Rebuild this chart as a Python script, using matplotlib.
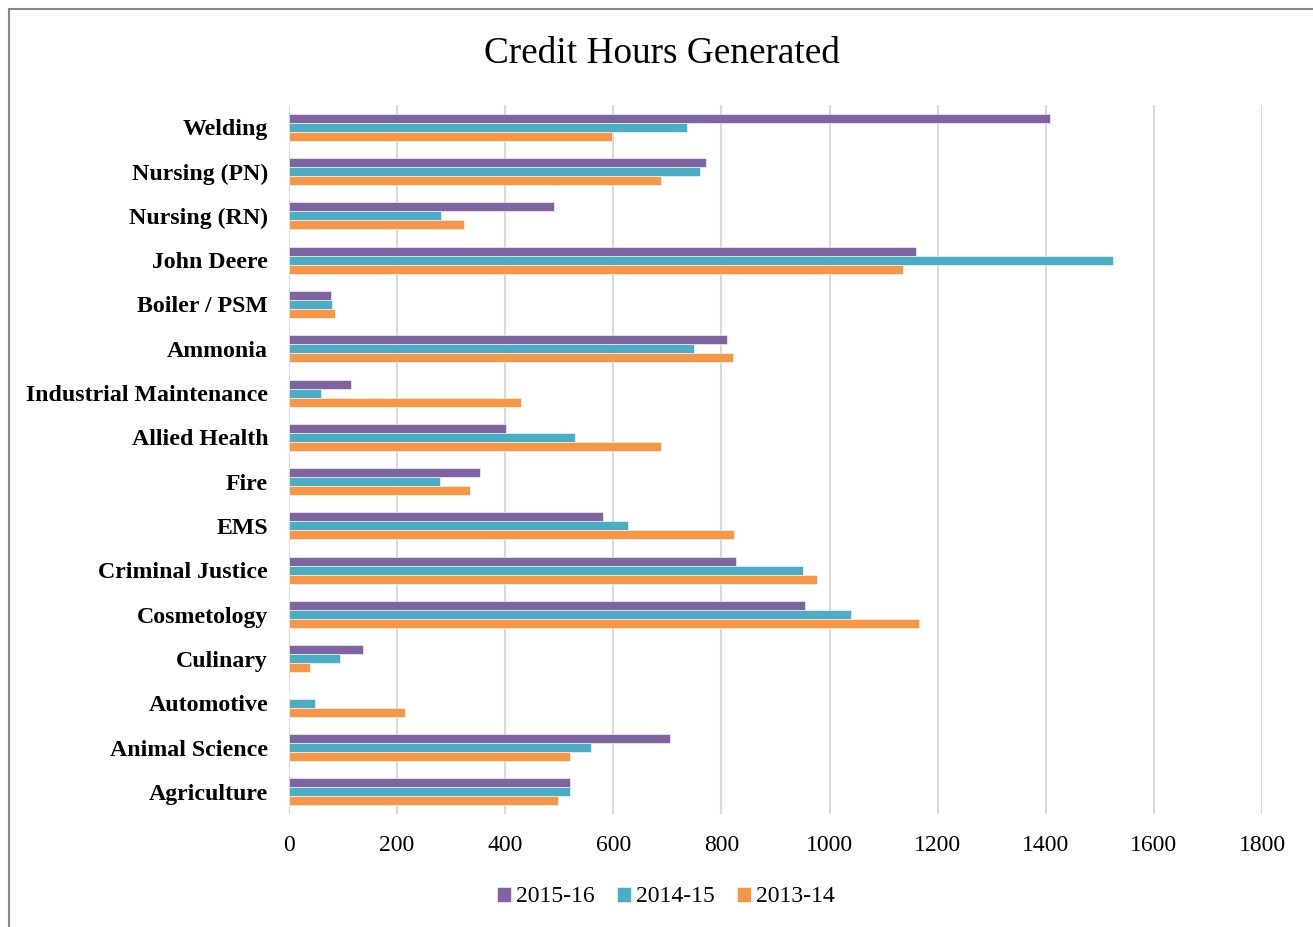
import matplotlib
matplotlib.use("Agg")
import matplotlib.pyplot as plt
import numpy as np
from matplotlib.patches import Rectangle

categories = ["Welding", "Nursing (PN)", "Nursing (RN)", "John Deere", "Boiler / PSM",
              "Ammonia", "Industrial Maintenance", "Allied Health", "Fire", "EMS",
              "Criminal Justice", "Cosmetology", "Culinary", "Automotive",
              "Animal Science", "Agriculture"]
series_names = ["2015-16", "2014-15", "2013-14"]
v2015 = [1408, 771, 491, 1160, 77, 810, 115, 401, 354, 581, 827, 954, 137, 0, 704, 519]
v2014 = [736, 761, 281, 1525, 80, 749, 59, 529, 279, 627, 951, 1040, 95, 48, 559, 519]
v2013 = [598, 688, 324, 1136, 86, 822, 430, 689, 335, 823, 976, 1166, 38, 214, 519, 498]
xticks = [0, 200, 400, 600, 800, 1000, 1200, 1400, 1600, 1800]
colors = ["#8064A2", "#4BACC6", "#F79646"]

W, H = 1313, 927
fig = plt.figure(figsize=(W / 100, H / 100), dpi=100)
ax = fig.add_axes([289 / W, 1 - 814 / H, (1262 - 289) / W, (814 - 105) / H])

serif = ["Liberation Serif", "DejaVu Serif"]
y = np.arange(len(categories))
bw = 0.203
for i, (vals, c, name) in enumerate(zip([v2015, v2014, v2013], colors, series_names)):
    ax.barh(y + (i - 1) * bw, vals, height=bw, color=c, label=name,
            edgecolor="white", linewidth=0.4, zorder=3)

ax.set_xlim(0, 1800)
ax.set_ylim(len(categories) - 0.5, -0.5)
ax.set_xticks(xticks)
ax.set_xticklabels([str(t) for t in xticks], fontsize=17, family=serif)
ax.set_yticks(y)
ax.set_yticklabels(categories, fontsize=17.2, fontweight="bold", family=serif)
ax.tick_params(axis="y", length=0, pad=15)
ax.tick_params(axis="x", length=0, pad=15)
ax.grid(axis="x", color="#D9D9D9", linewidth=1.5, zorder=0)
for s in ax.spines.values():
    s.set_visible(False)

fig.text(662 / W, 1 - 54 / H, "Credit Hours Generated", ha="center", va="center",
         fontsize=26.8, family=serif)

leg = fig.legend(loc="center", bbox_to_anchor=(666 / W, 1 - 897 / H), ncol=3,
                 frameon=False, prop={"family": serif, "size": 17},
                 handlelength=0.6, handleheight=0.6, handletextpad=0.2,
                 columnspacing=0.95)

fig.patches.append(Rectangle((9 / W, -0.1), 1.2, (1 - 9 / H) + 0.1,
                             transform=fig.transFigure, fill=False,
                             edgecolor="#888888", linewidth=1.5))

fig.savefig("out.png", dpi=100)
